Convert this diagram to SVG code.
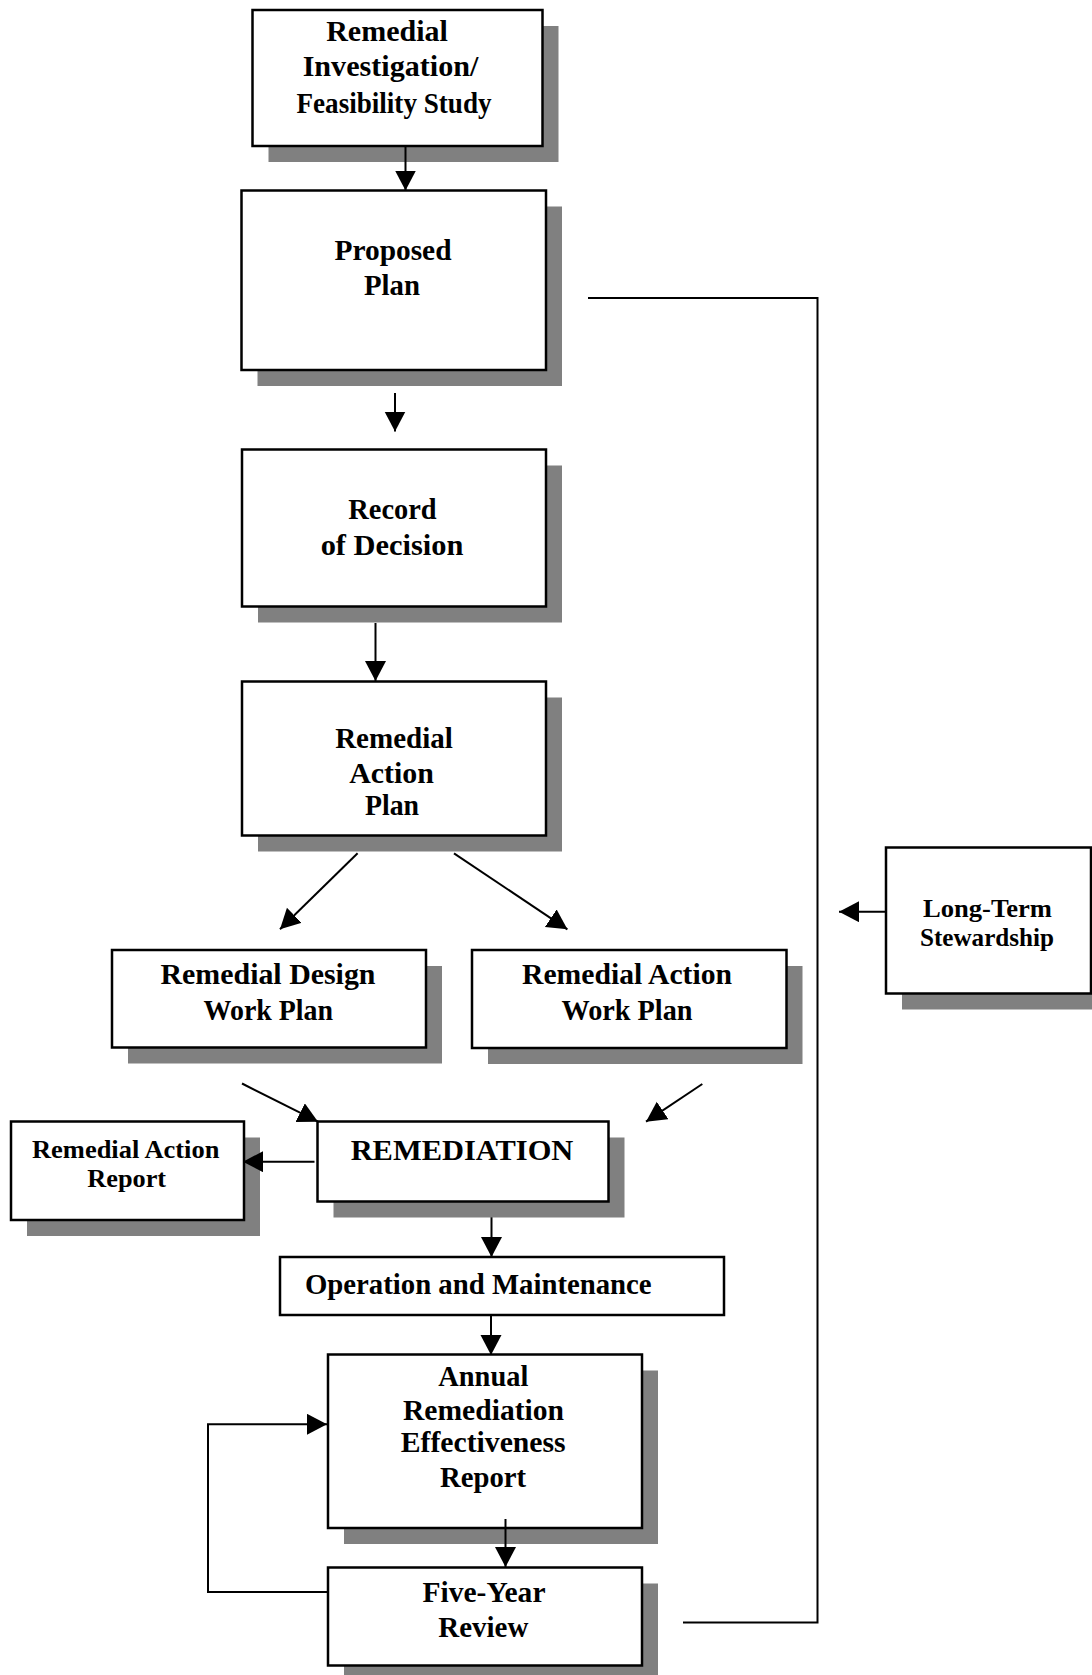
<svg xmlns="http://www.w3.org/2000/svg" width="1092" height="1675" viewBox="0 0 1092 1675">
<style>
.sh{fill:#808080}
.bx{fill:#fff;stroke:#000;stroke-width:2.5}
.t{font-family:"Liberation Serif","Times New Roman",serif;font-weight:bold;font-size:30px;fill:#000;text-anchor:middle}
.s{font-size:25px}
.c{fill:none;stroke:#000;stroke-width:2}
</style>
<defs>
<marker id="ah" markerUnits="userSpaceOnUse" markerWidth="22" markerHeight="22" refX="20" refY="10.5" orient="auto">
<path d="M0,0 L20,10.5 L0,21 z" fill="#000"/>
</marker>
</defs>
<rect width="1092" height="1675" fill="#fff"/>

<g id="n-rifs">
<rect class="sh" x="268.5" y="26" width="290" height="136"/>
<rect class="bx" x="252.5" y="10" width="290" height="136"/>
<text class="t" x="387" y="41" textLength="121.7" lengthAdjust="spacingAndGlyphs">Remedial</text>
<text class="t" x="390.5" y="76" textLength="175.7" lengthAdjust="spacingAndGlyphs">Investigation/</text>
<text class="t" x="394" y="112.5" textLength="195" lengthAdjust="spacingAndGlyphs">Feasibility Study</text>
</g>

<g id="n-pp">
<rect class="sh" x="257.5" y="206.5" width="304.5" height="179.5"/>
<rect class="bx" x="241.5" y="190.5" width="304.5" height="179.5"/>
<text class="t" x="393" y="259.5" textLength="117" lengthAdjust="spacingAndGlyphs">Proposed</text>
<text class="t" x="392" y="295" textLength="56" lengthAdjust="spacingAndGlyphs">Plan</text>
</g>

<g id="n-rod">
<rect class="sh" x="258" y="465.5" width="304" height="157"/>
<rect class="bx" x="242" y="449.5" width="304" height="157"/>
<text class="t" x="392.5" y="519" textLength="88.3" lengthAdjust="spacingAndGlyphs">Record</text>
<text class="t" x="392" y="555" textLength="142.7" lengthAdjust="spacingAndGlyphs">of Decision</text>
</g>

<g id="n-rap">
<rect class="sh" x="258" y="697.5" width="304" height="154"/>
<rect class="bx" x="242" y="681.5" width="304" height="154"/>
<text class="t" x="394" y="748" textLength="117.7" lengthAdjust="spacingAndGlyphs">Remedial</text>
<text class="t" x="391.5" y="783" textLength="84.7" lengthAdjust="spacingAndGlyphs">Action</text>
<text class="t" x="392" y="815" textLength="54" lengthAdjust="spacingAndGlyphs">Plan</text>
</g>

<g id="n-rdwp">
<rect class="sh" x="128" y="966" width="314" height="97.5"/>
<rect class="bx" x="112" y="950" width="314" height="97.5"/>
<text class="t" x="268" y="984" textLength="215" lengthAdjust="spacingAndGlyphs">Remedial Design</text>
<text class="t" x="268.3" y="1019.5" textLength="129.4" lengthAdjust="spacingAndGlyphs">Work Plan</text>
</g>

<g id="n-rawp">
<rect class="sh" x="488" y="966" width="314.5" height="98"/>
<rect class="bx" x="472" y="950" width="314.5" height="98"/>
<text class="t" x="627" y="984" textLength="210" lengthAdjust="spacingAndGlyphs">Remedial Action</text>
<text class="t" x="627" y="1019.5" textLength="131" lengthAdjust="spacingAndGlyphs">Work Plan</text>
</g>

<g id="n-lts">
<rect class="sh" x="902" y="863.5" width="205" height="146"/>
<rect class="bx" x="886" y="847.5" width="205" height="146"/>
<text class="t s" x="987.5" y="917" textLength="129" lengthAdjust="spacingAndGlyphs">Long-Term</text>
<text class="t s" x="987" y="945.5" textLength="134" lengthAdjust="spacingAndGlyphs">Stewardship</text>
</g>

<g id="n-rem">
<rect class="sh" x="333.5" y="1137.5" width="291" height="80"/>
<rect class="bx" x="317.5" y="1121.5" width="291" height="80"/>
<text class="t" x="462" y="1159.5" textLength="222.7" lengthAdjust="spacingAndGlyphs">REMEDIATION</text>
</g>

<g id="n-rar">
<rect class="sh" x="27" y="1137.5" width="233" height="98.5"/>
<rect class="bx" x="11" y="1121.5" width="233" height="98.5"/>
<text class="t s" x="125.7" y="1158" textLength="187.4" lengthAdjust="spacingAndGlyphs">Remedial Action</text>
<text class="t s" x="126.7" y="1187" textLength="78.8" lengthAdjust="spacingAndGlyphs">Report</text>
</g>

<g id="n-om">
<rect class="bx" x="280" y="1257" width="444" height="58"/>
<text class="t" x="478.3" y="1294" textLength="346.7" lengthAdjust="spacingAndGlyphs">Operation and Maintenance</text>
</g>

<g id="n-arer">
<rect class="sh" x="344" y="1370.5" width="314" height="173.5"/>
<rect class="bx" x="328" y="1354.5" width="314" height="173.5"/>
<text class="t" x="483.3" y="1385.5" textLength="90" lengthAdjust="spacingAndGlyphs">Annual</text>
<text class="t" x="483.5" y="1420" textLength="161" lengthAdjust="spacingAndGlyphs">Remediation</text>
<text class="t" x="483.2" y="1452.3" textLength="165" lengthAdjust="spacingAndGlyphs">Effectiveness</text>
<text class="t" x="483" y="1487" textLength="86" lengthAdjust="spacingAndGlyphs">Report</text>
</g>

<g id="n-fyr">
<rect class="sh" x="344" y="1583.5" width="314" height="98"/>
<rect class="bx" x="328" y="1567.5" width="314" height="98"/>
<text class="t" x="484" y="1601.5" textLength="123" lengthAdjust="spacingAndGlyphs">Five-Year</text>
<text class="t" x="483.3" y="1637" textLength="90" lengthAdjust="spacingAndGlyphs">Review</text>
</g>

<g id="connectors">
<line class="c" x1="405.5" y1="146" x2="405.5" y2="190.5" marker-end="url(#ah)"/>
<line class="c" x1="395" y1="393" x2="395" y2="431.5" marker-end="url(#ah)"/>
<line class="c" x1="375.5" y1="623" x2="375.5" y2="681" marker-end="url(#ah)"/>
<line class="c" x1="357.6" y1="853.3" x2="280" y2="929.3" marker-end="url(#ah)"/>
<line class="c" x1="454" y1="853.3" x2="567.4" y2="929.3" marker-end="url(#ah)"/>
<line class="c" x1="242" y1="1083.5" x2="318" y2="1121.7" marker-end="url(#ah)"/>
<line class="c" x1="702.3" y1="1084" x2="646" y2="1121.7" marker-end="url(#ah)"/>
<line class="c" x1="314.5" y1="1161.7" x2="243" y2="1161.7" marker-end="url(#ah)"/>
<line class="c" x1="491.5" y1="1217.3" x2="491.5" y2="1257" marker-end="url(#ah)"/>
<line class="c" x1="491" y1="1315" x2="491" y2="1355" marker-end="url(#ah)"/>
<line class="c" x1="505.5" y1="1519" x2="505.5" y2="1567" marker-end="url(#ah)"/>
<path class="c" d="M328,1592 H208 V1424.3 H327" marker-end="url(#ah)"/>
<line class="c" x1="886" y1="911.7" x2="839" y2="911.7" marker-end="url(#ah)"/>
<path class="c" d="M588,298 H817.5 V1622.5 H683"/>
</g>
</svg>
